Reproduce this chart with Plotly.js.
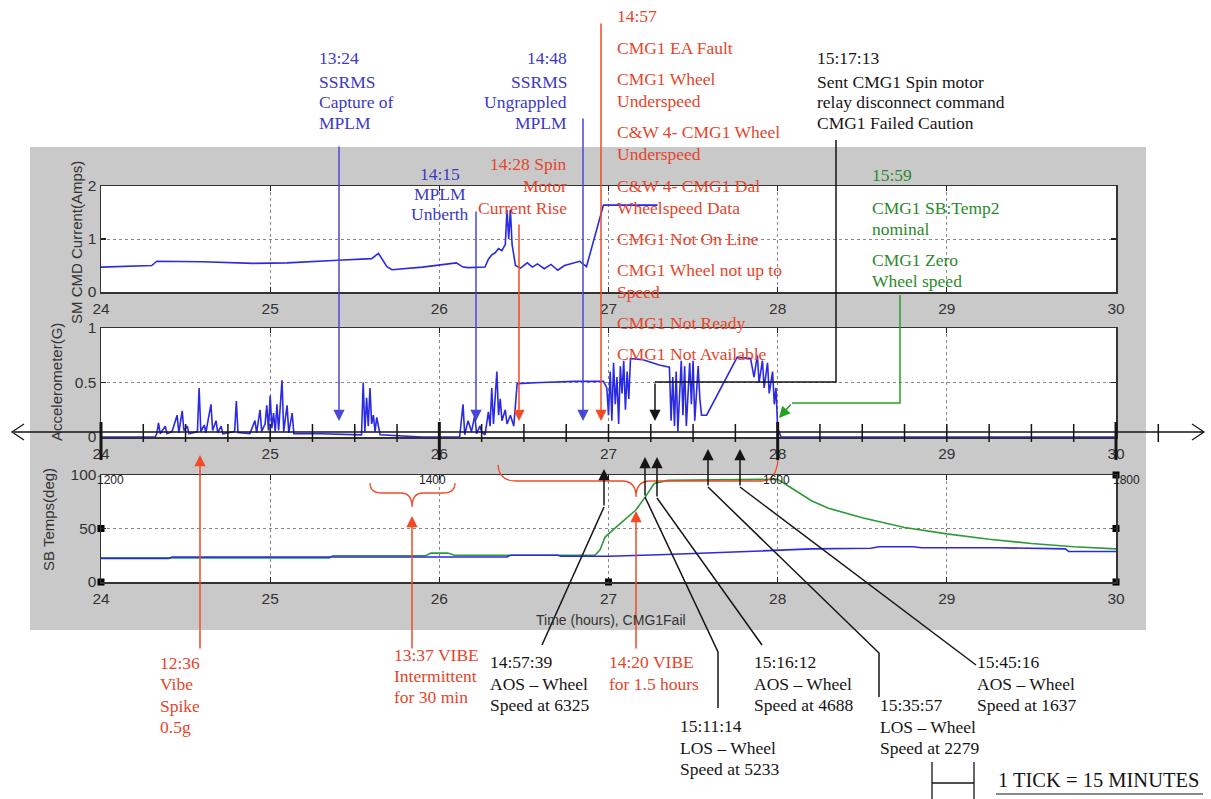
<!DOCTYPE html>
<html><head><meta charset="utf-8">
<script src="https://cdn.plot.ly/plotly-3.0.1.min.js"></script>
<style>html,body{margin:0;padding:0;background:#fff;}#chart{width:1211px;height:799px;}</style>
</head><body><div id="chart"></div>
<script>
// ---------------- DATA ----------------
const hourTicks = [24, 25, 26, 27, 28, 29, 30];

// SM CMD Current (Amps)
const currentHours = [24.00, 24.30, 24.33, 24.60, 24.90, 25.10, 25.40, 25.60, 25.64, 25.66,
  25.69, 25.72, 25.90, 26.10, 26.14, 26.17, 26.27, 26.29, 26.31, 26.33,
  26.35, 26.37, 26.39, 26.40, 26.41, 26.42, 26.43, 26.45, 26.48, 26.52,
  26.55, 26.58, 26.62, 26.66, 26.70, 26.74, 26.79, 26.83, 26.87, 26.97, 27.29];
const currentAmps = [0.47, 0.50, 0.58, 0.57, 0.54, 0.55, 0.60, 0.63, 0.73, 0.62,
  0.48, 0.42, 0.47, 0.55, 0.47, 0.46, 0.47, 0.62, 0.70, 0.74,
  0.82, 0.78, 0.90, 1.55, 1.00, 1.55, 0.90, 0.50, 0.45, 0.55,
  0.47, 0.53, 0.44, 0.52, 0.41, 0.50, 0.55, 0.58, 0.48, 1.64, 1.64];

// Accelerometer (G)
const accelHours = [24.00, 24.32, 24.33, 24.34, 24.35, 24.38, 24.39, 24.42, 24.45, 24.46,
  24.48, 24.49, 24.51, 24.52, 24.57, 24.58, 24.59, 24.61, 24.62, 24.65,
  24.66, 24.68, 24.69, 24.71, 24.72, 24.79, 24.80, 24.81, 24.88, 24.91,
  24.92, 24.94, 24.95, 24.97, 24.98, 24.99, 25.00, 25.01, 25.02, 25.03,
  25.04, 25.05, 25.07, 25.08, 25.10, 25.11, 25.13, 25.14, 25.30, 25.54,
  25.55, 25.56, 25.57, 25.58, 25.59, 25.60, 25.61, 25.62, 25.63, 25.65,
  25.90, 26.12, 26.14, 26.15, 26.17, 26.19, 26.21, 26.22, 26.24, 26.25,
  26.27, 26.29, 26.30, 26.31, 26.32, 26.34, 26.35, 26.36, 26.37, 26.39,
  26.40, 26.42, 26.44, 26.46, 26.60, 26.80, 26.97, 26.99, 27.00, 27.01,
  27.02, 27.03, 27.04, 27.05, 27.06, 27.07, 27.08, 27.09, 27.10, 27.11,
  27.12, 27.13, 27.20, 27.30, 27.36, 27.37, 27.38, 27.39, 27.40, 27.41,
  27.43, 27.44, 27.45, 27.46, 27.48, 27.49, 27.50, 27.51, 27.53, 27.54,
  27.55, 27.58, 27.76, 27.84, 27.86, 27.88, 27.89, 27.91, 27.92, 27.94,
  27.95, 27.97, 27.98, 27.99, 28.00, 28.02, 30.00];
const accelG = [0.00, 0.00, 0.03, 0.13, 0.03, 0.10, 0.03, 0.05, 0.20, 0.04,
  0.24, 0.06, 0.10, 0.03, 0.05, 0.45, 0.05, 0.11, 0.04, 0.30,
  0.06, 0.15, 0.04, 0.10, 0.03, 0.05, 0.33, 0.04, 0.03, 0.15,
  0.04, 0.25, 0.05, 0.12, 0.29, 0.06, 0.38, 0.08, 0.22, 0.05,
  0.30, 0.06, 0.52, 0.05, 0.29, 0.04, 0.22, 0.03, 0.03, 0.02,
  0.50, 0.05, 0.36, 0.10, 0.45, 0.12, 0.20, 0.05, 0.18, 0.02,
  0.00, 0.00, 0.30, 0.02, 0.15, 0.05, 0.20, 0.03, 0.10, 0.05,
  0.02, 0.23, 0.10, 0.45, 0.12, 0.60, 0.20, 0.35, 0.15, 0.25,
  0.12, 0.20, 0.10, 0.49, 0.50, 0.51, 0.51, 0.45, 0.20, 0.60,
  0.15, 0.68, 0.30, 0.55, 0.12, 0.65, 0.40, 0.70, 0.25, 0.60,
  0.35, 0.72, 0.71, 0.66, 0.64, 0.15, 0.55, 0.10, 0.60, 0.05,
  0.70, 0.20, 0.65, 0.10, 0.68, 0.30, 0.70, 0.15, 0.65, 0.35,
  0.20, 0.20, 0.73, 0.72, 0.55, 0.75, 0.50, 0.70, 0.45, 0.68,
  0.40, 0.60, 0.30, 0.45, 0.08, 0.00, 0.00];

// SB Temps (deg)
const tempBlueHours = [24.00, 24.40, 24.42, 26.40, 26.42, 26.70, 26.72, 27.00, 27.30, 27.60,
  27.90, 28.20, 28.55, 28.60, 28.80, 28.85, 29.30, 29.70, 29.72, 30.00];
const tempBlue = [22.0, 22.0, 23.4, 23.4, 25.0, 25.0, 24.0, 24.0, 25.5, 27.0,
  29.0, 31.0, 31.5, 33.0, 33.0, 32.0, 32.0, 31.0, 28.5, 28.5];
const tempGreenHours = [24.00, 25.35, 25.37, 25.92, 25.95, 26.05, 26.09, 26.92, 26.95, 26.98,
  27.05, 27.16, 27.22, 27.27, 27.35, 27.97, 28.00, 28.10, 28.20, 28.30,
  28.50, 28.75, 29.00, 29.25, 29.50, 29.75, 30.00];
const tempGreen = [22.5, 22.5, 24.5, 24.5, 27.0, 27.0, 25.0, 25.0, 30.0, 42.0,
  52.0, 67.0, 80.0, 92.0, 95.0, 96.0, 96.0, 86.0, 76.0, 69.0,
  60.0, 51.0, 45.0, 40.0, 36.0, 33.0, 31.0];

// black square tick marks on the temperature panel
const squareHours = [24, 24, 27, 30, 30, 30];
const squareTemps = [0, 50, 0, 0, 50, 100];

// 15-minute timeline ticks
const timelineTicks = [24.00, 24.25, 24.50, 24.75, 25.00, 25.25, 25.50, 25.75, 26.00, 26.25,
  26.50, 26.75, 27.00, 27.25, 27.50, 27.75, 28.00, 28.25, 28.50, 28.75,
  29.00, 29.25, 29.50, 29.75, 30.00, 30.25];
const timelineMajor = [24, 26, 28, 30];
const clockLabels = ['1200', '1400', '1600', '1800'];

// ---------------- GEOMETRY / STYLE ----------------
const W = 1211, H = 799;
const fx = p => p / W, fy = p => 1 - p / H;
const PX0 = 101, PX1 = 1116;
const hx = h => PX0 + (h - 24) * (PX1 - PX0) / 6;

const SERIF = 'Liberation Serif, Times New Roman, serif';
const SANS = 'Liberation Sans, Arial, sans-serif';
const FS = 17.5;
const BLUE_T = '#3a3ac4', BLUE_L = '#4848d6';
const RED_T = '#e4452b', RED_L = '#f24a24';
const GREEN_T = '#2a8a2a', GREEN_L = '#25a025';
const BLACK = '#151515';

const annotations = [];
const shapes = [];

function txt(s, x, y, color, anchor, size, family, angle) {
  annotations.push({text: s, x: x, y: y, xref: 'x4', yref: 'y4', showarrow: false,
    xanchor: anchor || 'left', yanchor: 'middle', textangle: angle || 0,
    font: {family: family || SERIF, size: size || FS, color: color}});
}
function poly(pts, color, w) {
  if (pts.length < 2) return;
  const d = pts.map((p, i) => (i ? 'L' : 'M') + p[0] + ',' + p[1]).join(' ');
  shapes.push({type: 'path', xref: 'x4', yref: 'y4', path: d, line: {color: color, width: w || 1.5}});
}
function arrow(pts, color) {
  const n = pts.length;
  poly(pts.slice(0, n - 1), color);
  const tail = pts[n - 2], tip = pts[n - 1];
  annotations.push({x: tip[0], y: tip[1], xref: 'x4', yref: 'y4', ax: tail[0], ay: tail[1],
    axref: 'x4', ayref: 'y4', showarrow: true, text: '', arrowhead: 2, arrowsize: 1.5,
    arrowwidth: 1.5, arrowcolor: color});
}

// backgrounds
const dom = {top: [292, 186], mid: [437, 328], bot: [582, 475]};
shapes.push({type: 'rect', xref: 'paper', yref: 'paper', x0: fx(30), x1: fx(1146), y0: fy(630), y1: fy(147),
  fillcolor: '#c9c9c9', line: {width: 0}, layer: 'below'});
Object.values(dom).forEach(d => shapes.push({type: 'rect', xref: 'paper', yref: 'paper',
  x0: fx(PX0), x1: fx(PX1), y0: fy(d[0]), y1: fy(d[1]), fillcolor: '#ffffff', line: {width: 0}, layer: 'below'}));

// timeline
poly([[14, 432], [1204, 432]], BLACK, 1.5);
poly([[24, 424], [12, 432], [24, 440]], BLACK, 1.3);
poly([[1192, 424], [1204, 432], [1192, 440]], BLACK, 1.3);

// annotation arrows
arrow([[339, 145], [339, 421]], BLUE_L);
arrow([[476, 210], [476, 421]], BLUE_L);
arrow([[583, 117], [583, 421]], BLUE_L);
arrow([[519, 223], [519, 421]], RED_L);
arrow([[601, 22], [601, 421]], RED_L);
arrow([[836, 140], [836, 382], [655, 382], [655, 421]], BLACK);
arrow([[900, 295], [900, 403], [792, 403], [779, 418]], GREEN_L);
arrow([[200, 650], [200, 455]], RED_L);
arrow([[412, 650], [412, 516]], RED_L);
arrow([[636, 650], [636, 511]], RED_L);
arrow([[542, 645], [604, 507], [604, 469]], BLACK);
arrow([[718, 708], [718, 652], [645, 497], [645, 457]], BLACK);
arrow([[762, 645], [657, 498], [657, 457]], BLACK);
arrow([[879, 697], [879, 653], [708, 487], [708, 449]], BLACK);
arrow([[976, 665], [740, 487], [740, 449]], BLACK);

// braces
shapes.push({type: 'path', xref: 'x4', yref: 'y4', line: {color: RED_L, width: 1.3},
  path: 'M370,483 Q370,493 382,493 L401,493 Q412,493 412,507 Q412,493 423,493 L443,493 Q455,493 455,483'});
shapes.push({type: 'path', xref: 'x4', yref: 'y4', line: {color: RED_L, width: 1.3},
  path: 'M498,465 Q499,481 516,481 L622,481 Q636,481 636,497 Q636,481 650,481 L762,481 Q776,481 778,460'});

// scale bar
poly([[932, 762], [932, 799]], BLACK, 1.3);
poly([[974, 762], [974, 799]], BLACK, 1.3);
poly([[932, 783], [974, 783]], BLACK, 1.3);
poly([[996, 794], [1203, 794]], BLACK, 1.2);
txt('1 TICK = 15 MINUTES', 996, 780, BLACK, 'left', 20.5);

// blue texts
[['13:24', 58], ['SSRMS', 82], ['Capture of', 102], ['MPLM', 123]].forEach(a => txt(a[0], 317, a[1], BLUE_T, 'left'));
[['14:48', 58], ['SSRMS', 82], ['Ungrappled', 102], ['MPLM', 123]].forEach(a => txt(a[0], 569, a[1], BLUE_T, 'right'));
[['14:15', 174], ['MPLM', 194], ['Unberth', 214]].forEach(a => txt(a[0], 440, a[1], BLUE_T, 'center'));
// red texts
[['14:28 Spin', 164], ['Motor', 186], ['Current Rise', 208]].forEach(a => txt(a[0], 569, a[1], RED_T, 'right'));
[['14:57', 16], ['CMG1 EA Fault', 48], ['CMG1 Wheel', 79], ['Underspeed', 101],
 ['C&amp;W 4- CMG1 Wheel', 132], ['Underspeed', 154], ['C&amp;W 4- CMG1 Dal', 186],
 ['Wheelspeed Data', 208], ['CMG1 Not On Line', 239], ['CMG1 Wheel not up to', 270],
 ['Speed', 292], ['CMG1 Not Ready', 323], ['CMG1 Not Available', 354]].forEach(a => txt(a[0], 615, a[1], RED_T, 'left'));
// black top text
[['15:17:13', 58], ['Sent CMG1 Spin motor', 82], ['relay disconnect command', 102], ['CMG1 Failed Caution', 123]]
  .forEach(a => txt(a[0], 815, a[1], BLACK, 'left'));
// green texts
[['15:59', 175], ['CMG1 SB:Temp2', 208], ['nominal', 229], ['CMG1 Zero', 260], ['Wheel speed', 281]]
  .forEach(a => txt(a[0], 870, a[1], GREEN_T, 'left'));
// bottom red texts
[['12:36', 663], ['Vibe', 684], ['Spike', 706], ['0.5g', 727]].forEach(a => txt(a[0], 158, a[1], RED_T, 'left'));
[['13:37 VIBE', 655], ['Intermittent', 676], ['for 30 min', 697]].forEach(a => txt(a[0], 392, a[1], RED_T, 'left'));
[['14:20 VIBE', 662], ['for 1.5 hours', 684]].forEach(a => txt(a[0], 607, a[1], RED_T, 'left'));
// bottom black texts
function block(x, y0, lines) { lines.forEach((s, i) => txt(s, x, y0 + i * 21.5, BLACK, 'left')); }
block(488, 662, ['14:57:39', 'AOS \u2013 Wheel', 'Speed at 6325']);
block(752, 662, ['15:16:12', 'AOS \u2013 Wheel', 'Speed at 4688']);
block(975, 662, ['15:45:16', 'AOS \u2013 Wheel', 'Speed at 1637']);
block(878, 705, ['15:35:57', 'LOS \u2013 Wheel', 'Speed at 2279']);
block(678, 726, ['15:11:14', 'LOS \u2013 Wheel', 'Speed at 5233']);

// axis titles
txt('SM CMD Current(Amps)', 76, 243, '#333', 'center', 15, SANS, -90);
txt('Accelerometer(G)', 56, 382, '#333', 'center', 15, SANS, -90);
txt('SB Temps(deg)', 48, 520, '#333', 'center', 15, SANS, -90);
txt('Time (hours), CMG1Fail', 611, 620, '#333', 'center', 14, SANS, 0);

// clock labels on temperature panel
const clockPx = [110, 432, 776, 1126];
clockLabels.forEach((s, i) => txt(s, clockPx[i], 480, '#222', 'center', 12, SANS, 0));

// ---------------- TRACES ----------------
const DATA_BLUE = '#2a2ae4', DATA_GREEN = '#2f9a3a';
const tlX = [], tlY = [], tmX = [], tmY = [];
timelineTicks.forEach(h => {
  if (timelineMajor.indexOf(h) >= 0) { tmX.push(hx(h), hx(h), null); tmY.push(422, 460, null); }
  else { tlX.push(hx(h), hx(h), null); tlY.push(424, 442, null); }
});

const traces = [
  {x: currentHours, y: currentAmps, xaxis: 'x', yaxis: 'y', mode: 'lines', line: {color: DATA_BLUE, width: 1.6}, hoverinfo: 'skip'},
  {x: accelHours, y: accelG, xaxis: 'x2', yaxis: 'y2', mode: 'lines', line: {color: DATA_BLUE, width: 1.6}, hoverinfo: 'skip'},
  {x: tempGreenHours, y: tempGreen, xaxis: 'x3', yaxis: 'y3', mode: 'lines', line: {color: DATA_GREEN, width: 1.6}, hoverinfo: 'skip'},
  {x: tempBlueHours, y: tempBlue, xaxis: 'x3', yaxis: 'y3', mode: 'lines', line: {color: DATA_BLUE, width: 1.6}, hoverinfo: 'skip'},
  {x: squareHours, y: squareTemps, xaxis: 'x3', yaxis: 'y3', mode: 'markers', cliponaxis: false,
   marker: {symbol: 'square', size: 7, color: '#000'}, hoverinfo: 'skip'},
  {x: tlX, y: tlY, xaxis: 'x4', yaxis: 'y4', mode: 'lines', line: {color: BLACK, width: 1.5}, hoverinfo: 'skip'},
  {x: tmX, y: tmY, xaxis: 'x4', yaxis: 'y4', mode: 'lines', line: {color: BLACK, width: 3}, hoverinfo: 'skip'}
];

// ---------------- LAYOUT ----------------
const tickFont = {family: SANS, size: 15.5, color: '#333'};
function xAx(anchor) {
  return {domain: [fx(PX0), fx(PX1)], range: [24, 30], tickvals: hourTicks, ticks: 'inside', ticklen: 5,
    tickwidth: 1.3, tickcolor: '#222', showline: true, linecolor: '#333', linewidth: 1.5, mirror: 'ticks',
    showgrid: true, gridcolor: '#888', griddash: 'dot', gridwidth: 1, zeroline: false, tickfont: tickFont,
    ticklabelstandoff: 2, fixedrange: true, anchor: anchor};
}
function yAx(anchor, d, range, vals, texts) {
  return {domain: [fy(d[0]), fy(d[1])], range: range, tickvals: vals, ticktext: texts, ticks: 'inside', ticklen: 5,
    tickwidth: 1.3, tickcolor: '#222', showline: true, linecolor: '#333', linewidth: 1.5, mirror: 'ticks',
    showgrid: true, gridcolor: '#888', griddash: 'dot', gridwidth: 1, zeroline: false, tickfont: tickFont,
    fixedrange: true, anchor: anchor};
}

const layout = {
  width: W, height: H, margin: {l: 0, r: 0, t: 0, b: 0},
  paper_bgcolor: '#ffffff', plot_bgcolor: 'rgba(0,0,0,0)', showlegend: false,
  xaxis: xAx('y'), xaxis2: xAx('y2'), xaxis3: xAx('y3'),
  yaxis: yAx('x', dom.top, [0, 2], [0, 1, 2], ['0', '1', '2']),
  yaxis2: yAx('x2', dom.mid, [0, 1], [0, 0.5, 1], ['0', '0.5', '1']),
  yaxis3: yAx('x3', dom.bot, [0, 100], [0, 50, 100], ['0', '50', '100']),
  xaxis4: {domain: [0, 1], range: [0, W], visible: false, fixedrange: true, anchor: 'y4'},
  yaxis4: {domain: [0, 1], range: [H, 0], visible: false, fixedrange: true, anchor: 'x4'},
  shapes: shapes, annotations: annotations
};

Plotly.newPlot('chart', traces, layout, {displayModeBar: false, staticPlot: true});
</script>
</body></html>
